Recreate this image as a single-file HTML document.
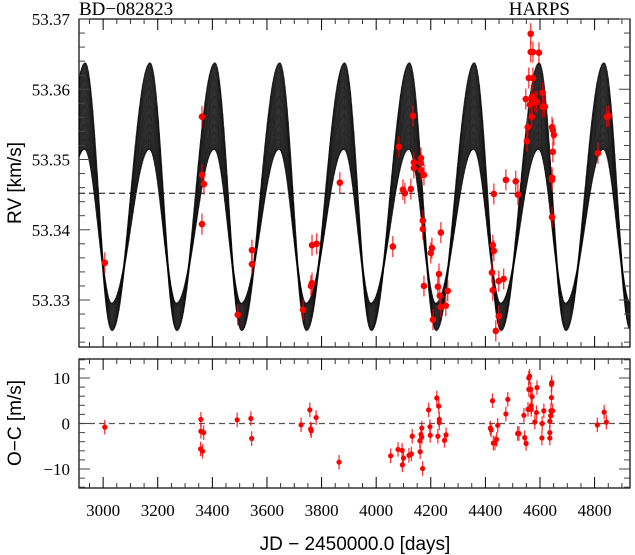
<!DOCTYPE html>
<html><head><meta charset="utf-8"><style>
body{margin:0;background:#fff;}
svg{display:block;}
.ser{font-family:"Liberation Serif",serif;}
.san{font-family:"Liberation Sans",sans-serif;}
</style></head><body>
<svg id="chart" width="635" height="555" viewBox="0 0 635 555">
<defs>
<clipPath id="clipTop"><rect x="79" y="19" width="551" height="328"/></clipPath>
<clipPath id="clipBot"><rect x="79" y="359" width="551" height="129"/></clipPath>
</defs>
<text class="ser" x="79" y="15" font-size="19">BD−082823</text>
<text class="ser" x="570" y="15" font-size="19" text-anchor="end">HARPS</text>
<text class="san" transform="translate(21,183) rotate(-90)" font-size="19" text-anchor="middle">RV [km/s]</text>
<text class="san" transform="translate(21,423) rotate(-90)" font-size="19" text-anchor="middle">O−C [m/s]</text>
<text class="san" x="355" y="550" font-size="19" text-anchor="middle">JD − 2450000.0 [days]</text>
<g id="gModel" clip-path="url(#clipTop)"></g>
<g id="gTop" clip-path="url(#clipTop)"></g>
<g id="gBot" clip-path="url(#clipBot)"></g>
<g id="gAxes"></g>
</svg>
<script>
const rvDays=[3006,3362,3362,3369,3362,3493,3545,3545,3732,3761,3765,3765,3782,3867,4061,4083,4098,4105,4127,4135,4138,4138,4164,4164,4164,4175,4171,4171,4175,4200,4204,4208,4237,4230,4226,4233,4237,4255,4262,4431,4427,4431,4424,4427,4449,4449,4438,4467,4475,4511,4519,4548,4552,4555,4559,4563,4566,4566,4570,4570,4574,4574,4581,4588,4596,4610,4610,4618,4644,4647,4651,4647,4644,4644,4644,4812,4845,4852];
const rvValues=[53.3353,53.3561,53.3478,53.3465,53.3408,53.3279,53.3371,53.3351,53.3286,53.3320,53.3324,53.3378,53.3380,53.3467,53.3376,53.3518,53.3457,53.3452,53.3458,53.3562,53.3496,53.3488,53.3502,53.3495,53.3485,53.3478,53.3413,53.3401,53.3320,53.3367,53.3374,53.3272,53.3396,53.3337,53.3319,53.3306,53.3290,53.3292,53.3313,53.3451,53.3378,53.3370,53.3339,53.3314,53.3327,53.3277,53.3256,53.3330,53.3471,53.3469,53.3450,53.3586,53.3526,53.3546,53.3616,53.3578,53.3679,53.3653,53.3561,53.3589,53.3616,53.3653,53.3582,53.3582,53.3652,53.3595,53.3575,53.3575,53.3546,53.3542,53.3535,53.3511,53.3474,53.3471,53.3418,53.3509,53.3561,53.3562];
const rvError=0.0015;
const ocDays=[3006,3358,3358,3357,3364,3368,3491,3541,3544,3725,3757,3760,3762,3780,3864,4053,4080,4095,4096,4100,4120,4129,4132,4160,4161,4164,4167,4170,4167,4192,4197,4198,4222,4226,4229,4231,4231,4250,4256,4418,4421,4426,4429,4435,4441,4445,4475,4482,4518,4523,4541,4544,4549,4556,4559,4559,4562,4566,4568,4568,4571,4581,4587,4589,4607,4608,4614,4636,4636,4636,4639,4640,4642,4642,4643,4646,4810,4835,4843];
const ocValues=[-0.8,0.9,-1.7,-5.6,-6.1,-2.0,0.8,1.1,-3.3,-0.3,3.0,-1.2,-1.6,1.3,-8.5,-7.1,-5.7,-5.9,-9.1,-7.6,-7.0,-6.7,-2.8,-3.8,-6.2,-2.4,-1.0,-9.9,-3.0,3.0,-0.7,-2.6,5.6,-2.8,3.8,0.9,0.2,-3.7,-2.5,-1.0,-1.4,5.0,-4.3,-4.3,-3.5,-0.4,2.1,5.3,-2.2,-2.2,1.8,-3.1,-4.4,3.1,7.5,10.0,10.4,7.5,3.1,3.9,5.9,0.3,2.4,7.9,-3.2,0.0,2.8,0.5,-2.0,-3.2,1.7,2.8,5.7,8.6,9.0,2.8,-0.3,2.5,0.3];
const ocError=1.6;
const xTicks=[3000,3200,3400,3600,3800,4000,4200,4400,4600,4800];
const rvTicks=[53.33,53.34,53.35,53.36,53.37];
const ocTicks=[-10,0,10];
const modelPeriod=237.5, modelTPeak=2933, modelFall=0.415, systemicRV=53.3452;

const NS="http://www.w3.org/2000/svg";
const L=79,R=630,T1=19,B1=347,T2=359,B2=488;
const xMin=2911.6,xMax=4929.6;
const X=d=>L+(d-xMin)/(xMax-xMin)*(R-L);
const Y1=v=>T1+(53.37-v)/0.01*70.25;
const Y2=v=>423.5-v*4.55;
function mk(tag,attrs,parent){const e=document.createElementNS(NS,tag);for(const k in attrs)e.setAttribute(k,attrs[k]);parent.appendChild(e);return e;}
function shape(t,m,A,sh){let p=(((t-modelTPeak-sh)/modelPeriod)%1+1)%1;
 if(p<modelFall)return m+A*Math.cos(Math.PI*p/modelFall);
 return m+A*Math.cos(Math.PI*(1-(p-modelFall)/(1-modelFall)));}
const gM=document.getElementById('gModel');
const N=15;
const variants=[];
for(let i=0;i<N;i++){
 const k=0.5+0.5*Math.sin((i/(N-1)-0.5)*Math.PI);
 variants.push({m:53.3405+(53.3447-53.3405)*k,A:0.011+(0.019-0.011)*k,sh:((i%3)-1)*1.2});
}
const step=1;
let up=[],lo=[];
for(let t=xMin-10;t<=xMax+10;t+=step){
 let mx=-1e9,mn=1e9;
 variants.forEach(v=>{const r=shape(t,v.m,v.A,v.sh);if(r>mx)mx=r;if(r<mn)mn=r;});
 up.push([X(t),Y1(mx)]);lo.push([X(t),Y1(mn)]);
}
let dp='M'+up.map(p=>p[0].toFixed(1)+','+p[1].toFixed(1)).join('L')+'L'+lo.slice().reverse().map(p=>p[0].toFixed(1)+','+p[1].toFixed(1)).join('L')+'Z';
const band=mk('path',{d:dp,fill:'#5e5e5e',stroke:'#444','stroke-width':1.2},gM);


let hd='';
for(let i=0;i<up.length;i+=4){hd+='M'+up[i][0].toFixed(1)+','+(up[i][1]-1).toFixed(1)+'V'+(lo[i][1]+1).toFixed(1);}
const hatch=mk('path',{d:hd,stroke:'#000','stroke-width':1,'stroke-opacity':0.55,fill:'none'},gM);


variants.forEach(v=>{
 let d='';
 for(let t=xMin-10;t<=xMax+10;t+=1.5){d+=(d?'L':'M')+X(t).toFixed(1)+','+Y1(shape(t,v.m,v.A,v.sh)).toFixed(1);}
 const p=mk('path',{d:d,fill:'none',stroke:'#000','stroke-opacity':0.13,'stroke-width':1.6},gM);
 
 
});
const dl1=mk('line',{x1:L,x2:R,y1:Y1(systemicRV),y2:Y1(systemicRV),stroke:'#000','stroke-width':1,'stroke-dasharray':'6,4'},document.getElementById('gTop'));


const dl2=mk('line',{x1:L,x2:R,y1:Y2(0),y2:Y2(0),stroke:'#555','stroke-width':1.3,'stroke-dasharray':'6,4'},document.getElementById('gBot'));


const gT=document.getElementById('gTop');
rvDays.forEach((d,i)=>{const x=X(d),v=rvValues[i];
 const g=mk('g',{},gT);
 
 
 mk('line',{x1:x,x2:x,y1:Y1(v+rvError),y2:Y1(v-rvError),stroke:'#f00','stroke-width':1.3,'stroke-opacity':0.8},g);
 mk('circle',{cx:x,cy:Y1(v),r:3.3,fill:'#f00'},g);});
const gB=document.getElementById('gBot');
ocDays.forEach((d,i)=>{const x=X(d),v=ocValues[i];
 const g=mk('g',{},gB);
 
 
 mk('line',{x1:x,x2:x,y1:Y2(v+ocError),y2:Y2(v-ocError),stroke:'#f00','stroke-width':1.3,'stroke-opacity':0.8},g);
 mk('circle',{cx:x,cy:Y2(v),r:2.6,fill:'#f00'},g);});
const gA=document.getElementById('gAxes');
function frame(t,b){mk('rect',{x:L,y:t,width:R-L,height:b-t,fill:'none',stroke:'#000','stroke-width':1.2},gA);
 for(let d=2950;d<=4900;d+=50){const x=X(d);const maj=d%200===0;const len=maj?11:5;
  mk('line',{x1:x,x2:x,y1:b,y2:b-len,stroke:maj?'#000':'#333','stroke-width':1},gA);
  mk('line',{x1:x,x2:x,y1:t,y2:t+len,stroke:maj?'#000':'#333','stroke-width':1},gA);}}
frame(T1,B1);frame(T2,B2);
for(let j=0;j<=24;j++){const v=53.324+j*0.002;const y=Y1(v);if(y<T1-0.5||y>B1)continue;const maj=Math.abs((v*1000)%10)<0.01||Math.abs((v*1000)%10-10)<0.01;const len=maj?11:6;
 mk('line',{x1:L,x2:L+len,y1:y,y2:y,stroke:'#444'},gA);mk('line',{x1:R,x2:R-len,y1:y,y2:y,stroke:'#444'},gA);}
for(let v=-14;v<=14;v+=2){const y=Y2(v);const maj=v%10===0;const len=maj?11:6;
 mk('line',{x1:L,x2:L+len,y1:y,y2:y,stroke:'#444'},gA);mk('line',{x1:R,x2:R-len,y1:y,y2:y,stroke:'#444'},gA);}
xTicks.forEach(d=>{const t=mk('text',{x:X(d),y:516,'font-size':17,'text-anchor':'middle','class':'ser'},gA);t.textContent=d;
 
 });
rvTicks.forEach(v=>{const t=mk('text',{x:70,y:Y1(v)+6,'font-size':17,'text-anchor':'end','class':'ser'},gA);t.textContent=v.toFixed(2);
 
 });
ocTicks.forEach(v=>{const t=mk('text',{x:70,y:Y2(v)+6,'font-size':17,'text-anchor':'end','class':'ser'},gA);t.textContent=v<0?'−'+(-v):String(v);
 
 });
</script>
</body></html>
